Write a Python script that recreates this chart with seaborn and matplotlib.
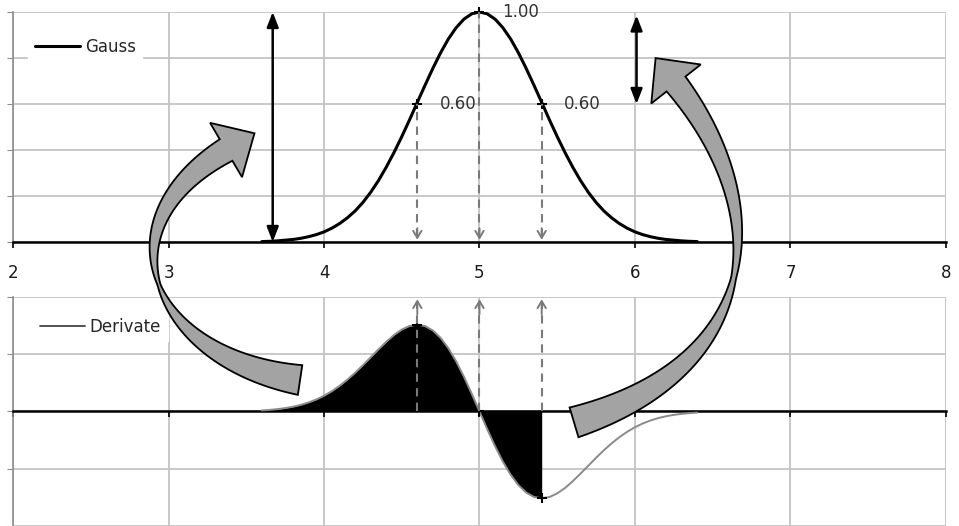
import numpy as np
import pandas as pd
import matplotlib.pyplot as plt
import seaborn as sns
from matplotlib.patches import Polygon

# values
x_vals = [3.60, 3.65, 3.70, 3.75, 3.80, 3.85, 3.90, 3.95, 4.00, 4.05, 4.10, 4.15,
          4.20, 4.25, 4.30, 4.35, 4.40, 4.45, 4.50, 4.55, 4.60, 4.65, 4.70, 4.75,
          4.80, 4.85, 4.90, 4.95, 5.00, 5.05, 5.10, 5.15, 5.20, 5.25, 5.30, 5.35,
          5.40, 5.45, 5.50, 5.55, 5.60, 5.65, 5.70, 5.75, 5.80, 5.85, 5.90, 5.95,
          6.00, 6.05, 6.10, 6.15, 6.20, 6.25, 6.30, 6.35, 6.40]
gauss = [0.002, 0.003, 0.005, 0.008, 0.011, 0.016, 0.023, 0.032, 0.044, 0.060,
         0.080, 0.105, 0.135, 0.172, 0.216, 0.267, 0.325, 0.389, 0.458, 0.531,
         0.607, 0.682, 0.755, 0.823, 0.883, 0.932, 0.969, 0.992, 1.000,
         0.992, 0.969, 0.932, 0.883, 0.823, 0.755, 0.682, 0.607, 0.531, 0.458,
         0.389, 0.325, 0.267, 0.216, 0.172, 0.135, 0.105, 0.080, 0.060, 0.044,
         0.032, 0.023, 0.016, 0.011, 0.008, 0.005, 0.003, 0.002]
derivate = [0.019, 0.028, 0.041, 0.059, 0.083, 0.115, 0.157, 0.209, 0.275, 0.354,
            0.448, 0.556, 0.677, 0.808, 0.946, 1.085, 1.217, 1.336, 1.431, 1.494,
            1.516, 1.492, 1.415, 1.285, 1.103, 0.874, 0.606, 0.310, 0.000,
            -0.310, -0.606, -0.874, -1.103, -1.285, -1.415, -1.492, -1.516, -1.494,
            -1.431, -1.336, -1.217, -1.085, -0.946, -0.808, -0.677, -0.556, -0.448,
            -0.354, -0.275, -0.209, -0.157, -0.115, -0.083, -0.059, -0.041, -0.028,
            -0.019]

key_x = [4.6, 5.0, 5.4]
key_gauss = [0.60, 1.00, 0.60]
key_labels = ['0.60', '1.00', '0.60']
key_deriv = [1.516, 0.0, -1.516]
fill_end = 5.4

x_ticks = [2, 3, 4, 5, 6, 7, 8]
gauss_ticks = [0.0, 0.2, 0.4, 0.6, 0.8, 1.0]
deriv_ticks = [-2, -1, 0, 1, 2]

df = pd.DataFrame({'x': x_vals, 'gauss': gauss, 'derivate': derivate})

sns.set_style('whitegrid')
plt.rcParams['font.family'] = ['DejaVu Sans']

fig = plt.figure(figsize=(9.59, 5.26), dpi=100)
ax1 = fig.add_axes([0.0136, 0.5399, 0.9728, 0.4373])
ax2 = fig.add_axes([0.0136, 0.0, 0.9728, 0.4354])

grid_c = '#c4c4c4'
for ax in (ax1, ax2):
    ax.set_facecolor('white')
    ax.set_xlim(2, 8)
    ax.set_xticks(x_ticks)
    ax.grid(True, color=grid_c, lw=1.3)
    for s in ('top', 'right'):
        ax.spines[s].set_visible(False)
    ax.spines['left'].set_color('#8c8c8c')
    ax.spines['left'].set_linewidth(1.2)
    ax.spines['bottom'].set_color('black')
    ax.spines['bottom'].set_linewidth(1.8)
    ax.tick_params(axis='y', left=True, direction='out', length=4.5, color='#8c8c8c',
                   labelleft=False)
    ax.tick_params(axis='x', bottom=True, direction='out', length=4.5, color='black',
                   width=1.2)

ax1.set_ylim(0, 1)
ax1.set_yticks(gauss_ticks)
ax1.tick_params(axis='x', labelsize=12, labelcolor='#1a1a1a', pad=11)

ax2.set_ylim(-1.99, 2)
ax2.set_yticks(deriv_ticks)
ax2.spines['bottom'].set_position(('data', 0))
ax2.tick_params(axis='x', labelbottom=False)

# top panel: Gauss curve
sns.lineplot(data=df, x='x', y='gauss', ax=ax1, color='black', lw=2.2, label='Gauss')
ax1.plot(key_x, key_gauss, '+', color='black', ms=7, mew=1.5, clip_on=False)
for xk, yk, lab in zip(key_x, key_gauss, key_labels):
    ax1.vlines(xk, 0.02, yk, colors='#7a7a7a', linestyles=(0, (4, 3)), lw=1.5)
    ax1.annotate('', xy=(xk, 0.01), xytext=(xk, 0.06),
                 arrowprops=dict(arrowstyle='->,head_length=0.5,head_width=0.3',
                                 color='#7a7a7a', lw=1.4, shrinkA=0, shrinkB=0))
    ax1.annotate(lab, xy=(xk, yk), xytext=(16, 0), textcoords='offset points',
                 ha='left', va='center', fontsize=12, color='#333333',
                 annotation_clip=False)

ax1.annotate('', xy=(3.67, 1.0), xytext=(3.67, 0.0), annotation_clip=False,
             arrowprops=dict(arrowstyle='<|-|>,head_length=0.9,head_width=0.35',
                             color='black', lw=1.8, shrinkA=0, shrinkB=0))
ax1.annotate('', xy=(6.01, 0.985), xytext=(6.01, 0.6), annotation_clip=False,
             arrowprops=dict(arrowstyle='<|-|>,head_length=0.9,head_width=0.35',
                             color='black', lw=1.8, shrinkA=0, shrinkB=0))

ax1.set_xlabel('')
ax1.set_ylabel('')
leg1 = ax1.legend(loc='center left', bbox_to_anchor=(0.016, 0.848), borderaxespad=0,
                  frameon=True, fontsize=12, handlelength=2.7, handletextpad=0.3)
leg1.get_frame().set_facecolor('white')
leg1.get_frame().set_edgecolor('white')
leg1.get_frame().set_alpha(1)

# bottom panel: derivate
fill_mask = [xv <= fill_end + 1e-9 for xv in x_vals]
ax2.fill_between(x_vals, derivate, 0, where=fill_mask, color='black', lw=0, zorder=2)
sns.lineplot(data=df, x='x', y='derivate', ax=ax2, color='#8a8a8a', lw=1.4, zorder=3,
             legend=False)
ax2.plot([], [], color='#444444', lw=1.3, label='Derivate')
ax2.plot(key_x, key_deriv, '+', color='black', ms=7, mew=1.5, zorder=4)
for xk in key_x:
    ax2.vlines(xk, 0.0, 1.9, colors='#7a7a7a', linestyles=(0, (4, 3)), lw=1.5, zorder=4)
    ax2.annotate('', xy=(xk, 1.96), xytext=(xk, 1.7),
                 arrowprops=dict(arrowstyle='->,head_length=0.5,head_width=0.3',
                                 color='#7a7a7a', lw=1.4, shrinkA=0, shrinkB=0))
ax2.set_xlabel('')
ax2.set_ylabel('')
leg2 = ax2.legend(loc='center left', bbox_to_anchor=(0.0215, 0.869), borderaxespad=0,
                  frameon=True, fontsize=12, handlelength=2.7, handletextpad=0.3)
leg2.get_frame().set_facecolor('white')
leg2.get_frame().set_edgecolor('white')
leg2.get_frame().set_alpha(1)


# big curved grey block arrows (derivate panel -> Gauss panel)
def block_arrow(p0, p1, p2, p3, w_tail, w_mid, w_end, t_mid, head_w, head_len):
    t = np.linspace(0, 1, 120)[:, None]
    c = (1 - t)**3 * p0 + 3 * (1 - t)**2 * t * p1 + 3 * (1 - t) * t**2 * p2 + t**3 * p3
    d = 3 * (1 - t)**2 * (p1 - p0) + 6 * (1 - t) * t * (p2 - p1) + 3 * t**2 * (p3 - p2)
    d = d / np.linalg.norm(d, axis=1, keepdims=True)
    nrm = np.column_stack([-d[:, 1], d[:, 0]])
    t = t.ravel()
    w = np.where(t < t_mid, w_tail + (w_mid - w_tail) * t / t_mid,
                 w_mid + (w_end - w_mid) * (t - t_mid) / (1 - t_mid))
    side_a = c + nrm * w[:, None] / 2
    side_b = c - nrm * w[:, None] / 2
    end, tang, n_end = c[-1], d[-1], nrm[-1]
    head = np.array([end + n_end * head_w / 2, end + tang * head_len,
                     end - n_end * head_w / 2])
    return np.vstack([side_a, head, side_b[::-1]])


# (tail, ctrl1) in derivate axes, (ctrl2, head base) in Gauss axes
arrows = [
    (((3.846, 0.55), (2.881, 0.94)), ((2.550, 0.074), (3.370, 0.40)), 30, 3, 25),
    (((5.608, -0.19), (6.840, 0.81)), ((6.893, 0.148), (6.264, 0.687)), 31, 5, 24),
]
for (a0, a1), (b0, b1), w_t, w_m, w_e in arrows:
    pts = [np.array(ax2.transData.transform(a0)), np.array(ax2.transData.transform(a1)),
           np.array(ax1.transData.transform(b0)), np.array(ax1.transData.transform(b1))]
    poly = block_arrow(*pts, w_t, w_m, w_e, 0.5, 63, 33)
    poly = fig.transFigure.inverted().transform(poly)
    fig.add_artist(Polygon(poly, closed=True, transform=fig.transFigure,
                           fc='#a3a3a3', ec='black', lw=1.3, zorder=5))

fig.savefig('out.png', dpi=100)
